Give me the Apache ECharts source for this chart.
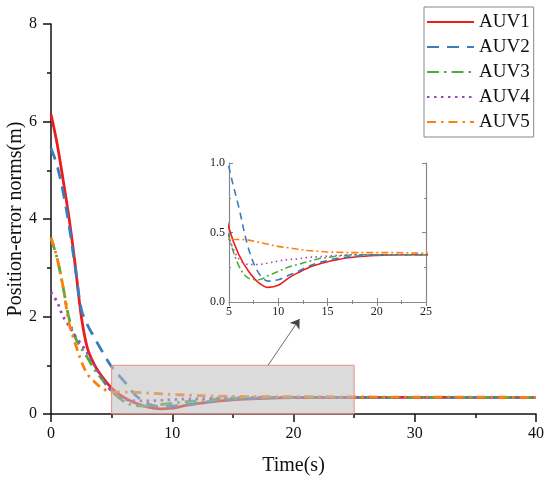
<!DOCTYPE html>
<html>
<head>
<meta charset="utf-8">
<script src="https://cdn.jsdelivr.net/npm/echarts@6/dist/echarts.min.js"></script>
<style>
  html, body { margin: 0; padding: 0; background: #fff; }
  #main { width: 550px; height: 483px; }
</style>
</head>
<body>
<div id="main"></div>
<script>
// time (s) and position-error norms (m) of each AUV
var time = [0, 0.5, 1, 1.5, 2, 2.5, 3, 3.5, 4, 5, 6, 7, 8, 9, 10, 11, 12, 13, 14, 15, 16, 18, 20, 22, 25, 30, 35, 40];
var auv1 = [6.15, 5.55, 4.8, 4.0, 3.05, 2.0, 1.35, 1.05, 0.84, 0.53, 0.34, 0.22, 0.14, 0.105, 0.12, 0.17, 0.21, 0.245, 0.27, 0.29, 0.305, 0.325, 0.335, 0.34, 0.34, 0.34, 0.34, 0.34];
var auv2 = [5.45, 5.1, 4.55, 3.85, 3.0, 2.15, 1.83, 1.6, 1.38, 0.97, 0.68, 0.38, 0.21, 0.15, 0.16, 0.19, 0.22, 0.255, 0.28, 0.3, 0.315, 0.33, 0.34, 0.34, 0.34, 0.34, 0.34, 0.34];
var auv3 = [3.6, 3.2, 2.6, 1.95, 1.57, 1.35, 1.16, 0.95, 0.78, 0.47, 0.26, 0.17, 0.16, 0.19, 0.22, 0.25, 0.27, 0.29, 0.31, 0.32, 0.33, 0.34, 0.34, 0.34, 0.34, 0.34, 0.34, 0.34];
var auv4 = [2.5, 2.3, 2.0, 1.8, 1.6, 1.43, 1.25, 1.03, 0.82, 0.47, 0.31, 0.27, 0.27, 0.28, 0.295, 0.305, 0.31, 0.32, 0.325, 0.33, 0.335, 0.34, 0.34, 0.34, 0.34, 0.34, 0.34, 0.34];
var auv5 = [3.62, 3.2, 2.6, 1.85, 1.45, 1.08, 0.82, 0.68, 0.57, 0.45, 0.45, 0.445, 0.43, 0.415, 0.4, 0.39, 0.38, 0.37, 0.365, 0.36, 0.358, 0.355, 0.355, 0.355, 0.35, 0.345, 0.345, 0.34];
var names = ['AUV1', 'AUV2', 'AUV3', 'AUV4', 'AUV5'];
var xTicks = [0, 10, 20, 30, 40];
var yTicks = [0, 2, 4, 6, 8];
var zoomX = [5, 25];
var zoomY = [0, 1];

function pairs(vals) {
  return time.map(function(t, i) { return [t, vals[i]]; });
}

function drawChart() {
  var chart = echarts.init(document.getElementById('main'));
  var font = 'Liberation Serif, Times New Roman, serif';
  var colors = ['#ee1c1c', '#3a7dbf', '#4dae3f', '#9a47b8', '#ff7f0e'];
  var dashMain = ['solid', [12, 8], [12, 5, 2.5, 5], [2.5, 4.5], [9, 5, 2.5, 5]];
  var dashInset = ['solid', [7, 5], [7, 3, 2, 3], [1.5, 3.5], [7, 3, 2, 3]];
  var values = [auv1, auv2, auv3, auv4, auv5];

  var series = [];
  values.forEach(function(v, i) {
    series.push({
      name: names[i],
      type: 'line',
      xAxisIndex: 0,
      yAxisIndex: 0,
      data: pairs(v),
      symbol: 'none',
      smooth: 0.35,
      lineStyle: { color: colors[i], width: 2.8, type: dashMain[i] },
      itemStyle: { color: colors[i] }
    });
  });
  // zoom box and arrow on the main plot
  series[4].markArea = {
    silent: true,
    z: 5,
    itemStyle: { color: 'rgba(190,190,190,0.55)', borderColor: '#f08888', borderWidth: 1 },
    data: [[{ coord: [zoomX[0], zoomY[0]] }, { coord: [zoomX[1], zoomY[1]] }]]
  };
  series[4].markLine = {
    silent: true,
    symbol: ['none', 'arrow'],
    symbolSize: 9,
    label: { show: false },
    lineStyle: { color: '#444', width: 0.8, type: 'solid' },
    data: [[{ coord: [17.9, 1.0] }, { coord: [20.5, 1.95] }]]
  };
  values.forEach(function(v, i) {
    series.push({
      name: names[i],
      type: 'line',
      xAxisIndex: 1,
      yAxisIndex: 1,
      data: pairs(v),
      symbol: 'none',
      smooth: 0.35,
      clip: true,
      lineStyle: { color: colors[i], width: 1.6, type: dashInset[i] },
      itemStyle: { color: colors[i] }
    });
  });

  var option = {
    backgroundColor: '#fff',
    animation: false,
    grid: [
      { left: 51, top: 24, width: 485, height: 390, outerBoundsMode: 'none', containLabel: false },
      { left: 229, top: 163, width: 197, height: 139, outerBoundsMode: 'none', containLabel: false,
        show: true, backgroundColor: '#fff', borderWidth: 0 }
    ],
    legend: {
      data: names,
      orient: 'vertical',
      left: 424,
      top: 7,
      padding: [5, 4, 5, 2],
      itemWidth: 47,
      itemHeight: 14,
      itemGap: 5,
      borderColor: '#888',
      borderWidth: 1,
      itemStyle: { opacity: 0, color: 'transparent', borderWidth: 0 },
      textStyle: { fontFamily: font, fontSize: 19, color: '#111', lineHeight: 20 }
    },
    xAxis: [
      {
        type: 'value', gridIndex: 0, min: xTicks[0], max: xTicks[xTicks.length - 1], interval: 10,
        name: 'Time(s)', nameLocation: 'middle', nameGap: 42, nameMoveOverlap: false,
        nameTextStyle: { fontFamily: font, fontSize: 20, color: '#111' },
        axisLine: { lineStyle: { color: '#111', width: 1.5 } },
        axisTick: { inside: false, length: 8, lineStyle: { color: '#111', width: 1.5 } },
        minorTick: { show: true, splitNumber: 2, length: 4, lineStyle: { color: '#111', width: 1.5 } },
        axisLabel: { fontFamily: font, fontSize: 16, color: '#111', margin: 12 },
        splitLine: { show: false }
      },
      {
        type: 'value', gridIndex: 1, min: zoomX[0], max: zoomX[1], interval: 5,
        axisLine: { lineStyle: { color: '#888', width: 1.2 } },
        axisTick: { inside: true, length: 4, lineStyle: { color: '#888' } },
        minorTick: { show: true, splitNumber: 2, length: 2, lineStyle: { color: '#888' } },
        axisLabel: { fontFamily: font, fontSize: 12, color: '#222', margin: 4 },
        splitLine: { show: false }
      },
      {
        type: 'value', gridIndex: 1, position: 'top', min: zoomX[0], max: zoomX[1], interval: 5,
        axisLine: { lineStyle: { color: '#888', width: 1.2 } },
        axisTick: { inside: true, length: 4, lineStyle: { color: '#888' } },
        minorTick: { show: true, splitNumber: 2, length: 2, lineStyle: { color: '#888' } },
        axisLabel: { show: false },
        splitLine: { show: false }
      }
    ],
    yAxis: [
      {
        type: 'value', gridIndex: 0, min: yTicks[0], max: yTicks[yTicks.length - 1], interval: 2,
        name: 'Position-error norms(m)', nameLocation: 'middle', nameGap: 25, nameMoveOverlap: false,
        nameTextStyle: { fontFamily: font, fontSize: 20, color: '#111' },
        axisLine: { show: true, lineStyle: { color: '#111', width: 1.5 } },
        axisTick: { show: true, inside: false, length: 8, lineStyle: { color: '#111', width: 1.5 } },
        minorTick: { show: true, splitNumber: 2, length: 4, lineStyle: { color: '#111', width: 1.5 } },
        axisLabel: { fontFamily: font, fontSize: 16, color: '#111', margin: 14 },
        splitLine: { show: false }
      },
      {
        type: 'value', gridIndex: 1, min: zoomY[0], max: zoomY[1], interval: 0.5,
        axisLine: { show: true, lineStyle: { color: '#888', width: 1.2 } },
        axisTick: { show: true, inside: true, length: 4, lineStyle: { color: '#888' } },
        minorTick: { show: true, splitNumber: 2, length: 2, lineStyle: { color: '#888' } },
        axisLabel: { fontFamily: font, fontSize: 12, color: '#222', margin: 4,
          formatter: function(v) { return v.toFixed(1); } },
        splitLine: { show: false }
      },
      {
        type: 'value', gridIndex: 1, position: 'right', min: zoomY[0], max: zoomY[1], interval: 0.5,
        axisLine: { show: true, lineStyle: { color: '#888', width: 1.2 } },
        axisTick: { show: true, inside: true, length: 4, lineStyle: { color: '#888' } },
        minorTick: { show: true, splitNumber: 2, length: 2, lineStyle: { color: '#888' } },
        axisLabel: { show: false },
        splitLine: { show: false }
      }
    ],
    series: series
  };
  chart.setOption(option);
}

drawChart();
</script>
</body>
</html>
